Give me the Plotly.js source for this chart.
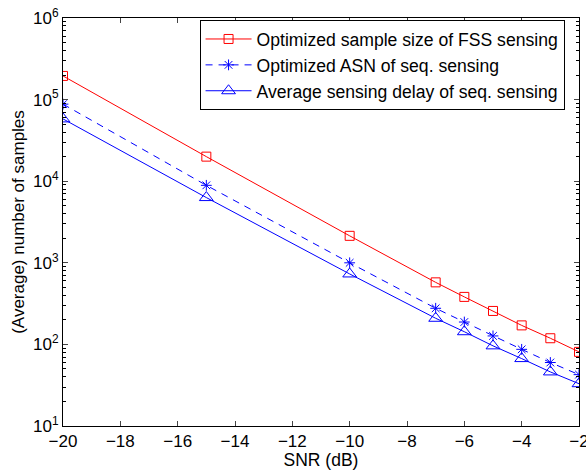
<!DOCTYPE html>
<html><head><meta charset="utf-8">
<script src="https://cdn.plot.ly/plotly-3.0.1.min.js"></script>
<style>body{margin:0;background:#fff;overflow:hidden}#plot{width:586px;height:470px}</style>
</head><body><div id="plot"></div>
<script>
const snr = [-20, -15, -10, -7, -6, -5, -4, -3, -2];
const fssSize = [195000, 20000, 2140, 576, 382, 257, 171, 119, 81];
const seqASN = [88000, 8900, 1000, 277, 188, 127, 87, 60, 42.6];
const seqDelay = [58000, 6300, 730, 209, 143, 96, 67, 46, 33];
const names = ['Optimized sample size of FSS sensing', 'Optimized ASN of seq. sensing', 'Average sensing delay of seq. sensing'];
const xTicks = [-20, -18, -16, -14, -12, -10, -8, -6, -4, -2];
const yTicks = [10, 100, 1000, 10000, 100000, 1000000];
const yTickText = ['10<sup>1</sup>', '10<sup>2</sup>', '10<sup>3</sup>', '10<sup>4</sup>', '10<sup>5</sup>', '10<sup>6</sup>'];

const minorVals = [];
for (let d = 0; d < yTicks.length - 1; d++) {
  for (let k = 2; k <= 9; k++) minorVals.push(yTicks[d] * k);
}

const traces = [
  {x: snr, y: fssSize, name: names[0], mode: 'lines+markers',
   line: {color: '#ff0000', width: 1}, marker: {symbol: 'square-open', size: 9, color: '#ff0000', line: {width: 1}}},
  {x: snr, y: seqASN, name: names[1], mode: 'lines+markers',
   line: {color: '#0000ff', width: 1, dash: '7px,6px'}, marker: {symbol: 'asterisk-open', size: 9, color: '#0000ff', line: {width: 1, color: '#0000ff'}}},
  {x: snr, y: seqDelay, name: names[2], mode: 'lines+markers',
   line: {color: '#0000ff', width: 1}, marker: {symbol: 'triangle-up-open', size: 12, color: '#0000ff', line: {width: 1}}}
];

const font = {family: 'Liberation Sans, Arial, sans-serif', size: 17, color: '#000'};
const layout = {
  width: 586, height: 470,
  margin: {l: 63, r: 7, t: 18, b: 44},
  paper_bgcolor: '#fff', plot_bgcolor: '#fff',
  font: font,
  showlegend: true,
  legend: {x: 0.972, y: 0.995, xanchor: 'right', yanchor: 'top', bgcolor: '#fff',
           bordercolor: '#000', borderwidth: 1, font: {family: font.family, size: 17.6},
           tracegroupgap: 0, itemwidth: 46},
  xaxis: {range: [-20, -2], tickvals: xTicks, ticks: 'inside', ticklen: 5, mirror: 'ticks',
          showline: true, linecolor: '#000', linewidth: 1, showgrid: false, zeroline: false,
          ticklabeloverflow: 'allow',
          tickfont: {size: 17}, title: {text: 'SNR (dB)', font: {size: 17.5}, standoff: 0}},
  yaxis: {type: 'log', range: [1, 6], tickvals: yTicks, ticktext: yTickText, ticks: 'inside', ticklen: 5,
          mirror: 'ticks', showline: true, linecolor: '#000', linewidth: 1, showgrid: false, zeroline: false,
          tickfont: {size: 17}, ticklabelstandoff: 0,
          minor: {tickvals: minorVals, ticks: 'inside', ticklen: 3, tickcolor: '#000', showgrid: false},
          title: {text: '(Average) number of samples', font: {size: 17}, standoff: 4}}
};
Plotly.newPlot('plot', traces, layout, {displayModeBar: false, staticPlot: true});
</script></body></html>
